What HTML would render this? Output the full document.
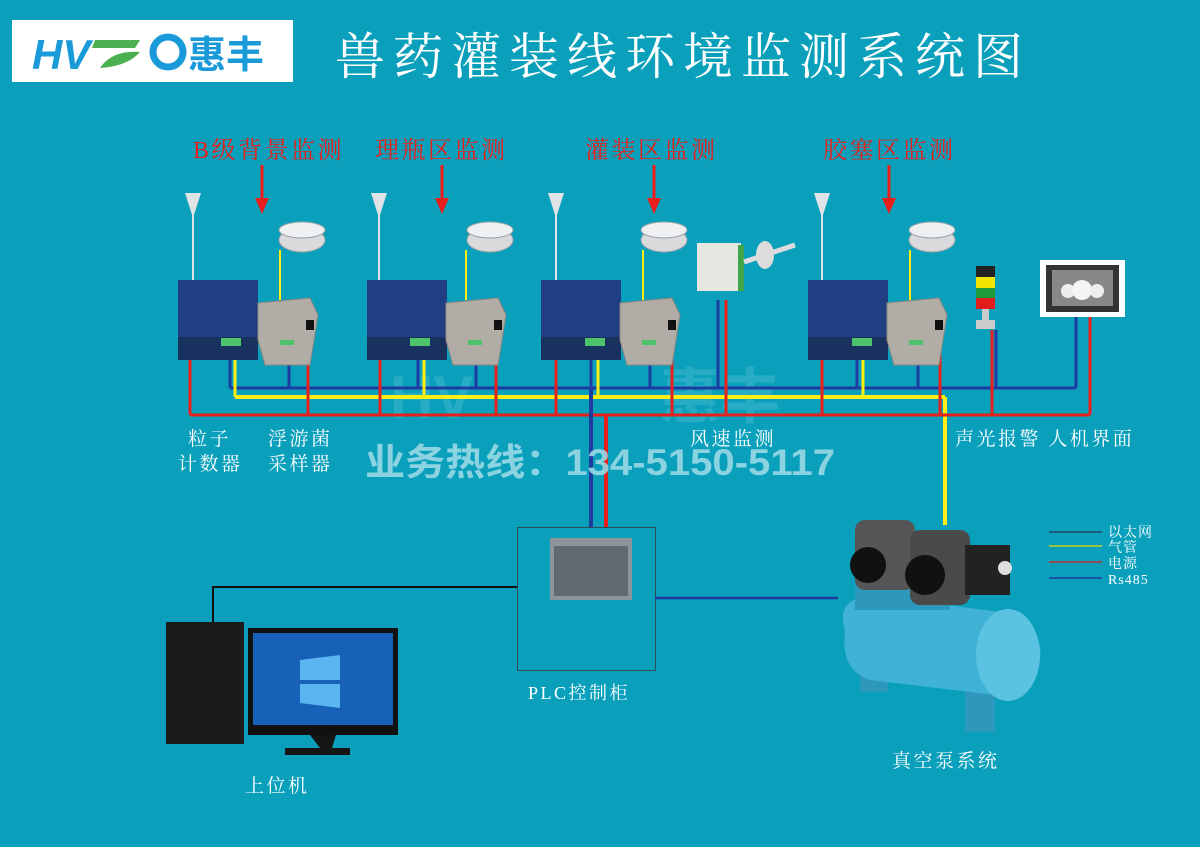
<!DOCTYPE html>
<html><head><meta charset="utf-8"><style>
html,body{margin:0;padding:0;}
body{width:1200px;height:847px;overflow:hidden;background:#0aa0bc;}
svg{display:block}
</style></head><body>
<svg width="1200" height="847" xmlns="http://www.w3.org/2000/svg" font-family="'Liberation Serif','Noto Serif CJK SC',serif">
<rect width="1200" height="847" fill="#0aa0bc"/>
<!-- logo -->
<rect x="12" y="20" width="281" height="62" fill="#fff"/>
<text x="32" y="69" font-family="'Liberation Sans',sans-serif" font-weight="bold" font-size="42" fill="#1a9ad8" font-style="italic">HV</text>
<path d="M95 40 L140 40 L135 48 L92 48Z M100 68 Q112 50 140 52 Q128 66 100 68Z" fill="#4caf50"/>
<circle cx="168" cy="52" r="15" fill="none" stroke="#1a9ad8" stroke-width="7"/>
<text x="188" y="68" font-family="'Liberation Sans','Noto Sans CJK SC',sans-serif" font-weight="bold" font-size="38" fill="#1a9ad8">惠丰</text>
<text x="335" y="74" font-size="50" fill="#fff" letter-spacing="8">兽药灌装线环境监测系统图</text>

<!-- section titles -->
<g fill="#e8201c" font-size="24" letter-spacing="2.5">
<text x="193" y="158">B级背景监测</text>
<text x="375" y="158">理瓶区监测</text>
<text x="585" y="158">灌装区监测</text>
<text x="823" y="158">胶塞区监测</text>
</g>
<g fill="#e8201c" stroke="#e8201c" stroke-width="3">
<line x1="262" y1="165" x2="262" y2="200"/><path d="M255 198 L269 198 L262 214Z" stroke="none"/>
<line x1="442" y1="165" x2="442" y2="200"/><path d="M435 198 L449 198 L442 214Z" stroke="none"/>
<line x1="654" y1="165" x2="654" y2="200"/><path d="M647 198 L661 198 L654 214Z" stroke="none"/>
<line x1="889" y1="165" x2="889" y2="200"/><path d="M882 198 L896 198 L889 214Z" stroke="none"/>
</g>

<!-- watermark logo -->
<g opacity="0.12" fill="#fff">
<text x="390" y="418" font-family="'Liberation Sans','Noto Sans CJK SC',sans-serif" font-weight="bold" font-size="60">HV</text>
<text x="660" y="418" font-family="'Liberation Sans','Noto Sans CJK SC',sans-serif" font-weight="bold" font-size="60">惠丰</text>
</g>

<!-- bus lines -->
<line x1="230" y1="388" x2="1076" y2="388" stroke="#1d3ba0" stroke-width="3"/>
<line x1="235" y1="397" x2="945" y2="397" stroke="#ffee10" stroke-width="4"/>
<line x1="945" y1="397" x2="945" y2="525" stroke="#ffee10" stroke-width="4"/>
<line x1="190" y1="415" x2="1090" y2="415" stroke="#e8201c" stroke-width="3"/>

<g stroke-width="3" fill="none">
<path d="M190 340V415 M308 330V415 M496 330V415 M672 330V415 M380 340V415 M556 340V415 M822 340V415 M940 330V415 M726 300V415 M992 330V415 M1090 315V415" stroke="#e8201c"/>
<path d="M230 345V388 M289 345V388 M418 345V388 M476 345V388 M591 345V388 M650 345V388 M857 345V388 M918 345V388 M718 300V388 M996 330V388 M1076 315V388" stroke="#1d3ba0"/>
<path d="M235 345V397 M424 345V397 M598 345V397 M863 345V397" stroke="#ffee10"/>
<path d="M280 250V300 M466 250V300 M643 250V300 M910 250V300" stroke="#ffee10" stroke-width="2"/>
<line x1="591" y1="388" x2="591" y2="527" stroke="#1d3ba0" stroke-width="4"/>
<line x1="606" y1="415" x2="606" y2="527" stroke="#e8201c" stroke-width="4"/>
</g>

<g fill="#dfe3e6">
<path d="M185 193 L201 193 L193 218Z"/><rect x="192" y="215" width="2" height="65"/>
<path d="M371 193 L387 193 L379 218Z"/><rect x="378" y="215" width="2" height="65"/>
<path d="M548 193 L564 193 L556 218Z"/><rect x="555" y="215" width="2" height="65"/>
<path d="M814 193 L830 193 L822 218Z"/><rect x="821" y="215" width="2" height="65"/>
</g>
<g fill="#1f3f82">
<rect x="178" y="280" width="80" height="80"/>
<rect x="367" y="280" width="80" height="80"/>
<rect x="541" y="280" width="80" height="80"/>
<rect x="808" y="280" width="80" height="80"/>
</g>
<g fill="#19315f">
<rect x="178" y="337" width="80" height="23"/>
<rect x="367" y="337" width="80" height="23"/>
<rect x="541" y="337" width="80" height="23"/>
<rect x="808" y="337" width="80" height="23"/>
</g>
<g fill="#4cc36a">
<rect x="221" y="338" width="20" height="8"/><rect x="410" y="338" width="20" height="8"/>
<rect x="585" y="338" width="20" height="8"/><rect x="852" y="338" width="20" height="8"/>
</g>
<g fill="#b2aca6" stroke="#8d8780">
<path d="M258 303 L310 298 L318 315 L310 365 L265 365 L258 340Z"/>
<path d="M446 303 L498 298 L506 315 L498 365 L453 365 L446 340Z"/>
<path d="M620 303 L672 298 L680 315 L672 365 L627 365 L620 340Z"/>
<path d="M887 303 L939 298 L947 315 L939 365 L894 365 L887 340Z"/>
</g>
<g fill="#4cc36a"><rect x="280" y="340" width="14" height="5"/><rect x="468" y="340" width="14" height="5"/><rect x="642" y="340" width="14" height="5"/><rect x="909" y="340" width="14" height="5"/></g>
<g fill="#111"><rect x="306" y="320" width="8" height="10"/><rect x="494" y="320" width="8" height="10"/><rect x="668" y="320" width="8" height="10"/><rect x="935" y="320" width="8" height="10"/></g>
<g fill="#d8dadc" stroke="#9da2a6">
<ellipse cx="302" cy="240" rx="23" ry="12"/><ellipse cx="302" cy="230" rx="23" ry="8" fill="#eef0f1"/>
<ellipse cx="490" cy="240" rx="23" ry="12"/><ellipse cx="490" cy="230" rx="23" ry="8" fill="#eef0f1"/>
<ellipse cx="664" cy="240" rx="23" ry="12"/><ellipse cx="664" cy="230" rx="23" ry="8" fill="#eef0f1"/>
<ellipse cx="932" cy="240" rx="23" ry="12"/><ellipse cx="932" cy="230" rx="23" ry="8" fill="#eef0f1"/>
</g>
<rect x="697" y="243" width="44" height="48" fill="#e6e6e2"/><rect x="738" y="245" width="6" height="46" fill="#3fa64a"/>
<path d="M744 262 L795 245" stroke="#ddd" stroke-width="5"/><ellipse cx="765" cy="255" rx="9" ry="14" fill="#ddd"/>
<rect x="976" y="266" width="19" height="11" fill="#222"/><rect x="976" y="277" width="19" height="11" fill="#f2e600"/>
<rect x="976" y="288" width="19" height="10" fill="#1e9a3a"/><rect x="976" y="298" width="19" height="11" fill="#e21b1b"/>
<rect x="982" y="309" width="7" height="12" fill="#ccc"/><rect x="976" y="320" width="19" height="9" fill="#ccc"/>
<rect x="1040" y="260" width="85" height="57" fill="#fff"/><rect x="1046" y="265" width="73" height="47" fill="#333"/>
<rect x="1052" y="270" width="61" height="36" fill="#888"/>
<circle cx="1068" cy="291" r="7" fill="#eee"/><circle cx="1082" cy="290" r="10" fill="#f4f4f4"/><circle cx="1097" cy="291" r="7" fill="#eee"/>

<g fill="#fff" font-size="19" letter-spacing="2.5">
<text x="188" y="445">粒子</text><text x="178" y="470">计数器</text>
<text x="268" y="445">浮游菌</text><text x="268" y="470">采样器</text>
<text x="690" y="445">风速监测</text>
<text x="955" y="445">声光报警 人机界面</text>
<text x="528" y="699" font-size="18">PLC控制柜</text>
<text x="245" y="792">上位机</text>
<text x="892" y="767">真空泵系统</text>
</g>
<text x="365" y="475" font-family="'Liberation Sans','Noto Sans CJK SC',sans-serif" font-weight="bold" font-size="37" fill="#9ad8e4" fill-opacity="0.9" textLength="470" lengthAdjust="spacingAndGlyphs">业务热线：134-5150-5117</text>

<rect x="517.5" y="527.5" width="138" height="143" fill="none" stroke="#2c4c5a" stroke-width="1"/>
<rect x="550" y="538" width="82" height="62" fill="#8e959a"/><rect x="554" y="546" width="74" height="50" fill="#5f6b70"/>
<path d="M517 587 H213 V622" stroke="#111" stroke-width="2" fill="none"/>
<path d="M655 598 H838" stroke="#1d3ba0" stroke-width="2.5" fill="none"/>

<rect x="166" y="622" width="78" height="122" fill="#1b1b1b"/>
<rect x="248" y="628" width="150" height="107" fill="#111"/>
<rect x="253" y="633" width="140" height="92" fill="#1762b8"/>
<path d="M300 660 L340 655 L340 680 L300 680Z M300 684 L340 684 L340 708 L300 703Z" fill="#5ab4f2"/>
<path d="M310 735 H336 L332 748 H285 V755 H350 V748 H320Z" fill="#151515"/>

<!-- pump -->
<rect x="860" y="660" width="28" height="32" fill="#2e98bc"/><rect x="965" y="680" width="30" height="52" fill="#2e98bc"/>
<path d="M845 630 Q835 600 870 595 L1000 612 Q1045 625 1040 660 Q1035 700 995 695 L870 680 Q840 670 845 630Z" fill="#3fb2d6"/>
<ellipse cx="1008" cy="655" rx="32" ry="46" fill="#5cc2e2"/>
<rect x="855" y="580" width="95" height="30" fill="#2e98bc"/>
<rect x="855" y="520" width="60" height="70" fill="#555" rx="10"/><rect x="910" y="530" width="60" height="75" fill="#4a4a4a" rx="10"/>
<circle cx="868" cy="565" r="18" fill="#111"/><circle cx="925" cy="575" r="20" fill="#111"/>
<rect x="965" y="545" width="45" height="50" fill="#222"/><circle cx="1005" cy="568" r="7" fill="#ddd"/>

<line x1="1049" y1="532" x2="1102" y2="532" stroke="#1c4a6a" stroke-width="1.5"/>
<line x1="1049" y1="546" x2="1102" y2="546" stroke="#c8d020" stroke-width="1.5"/>
<line x1="1049" y1="562" x2="1102" y2="562" stroke="#c03030" stroke-width="1.5"/>
<line x1="1049" y1="578" x2="1102" y2="578" stroke="#1d3ba0" stroke-width="1.5"/>
<g fill="#fff" font-size="14" letter-spacing="1">
<text x="1108" y="537">以太网</text><text x="1108" y="552">气管</text><text x="1108" y="568">电源</text><text x="1108" y="584">Rs485</text>
</g>
</svg>
</body></html>
